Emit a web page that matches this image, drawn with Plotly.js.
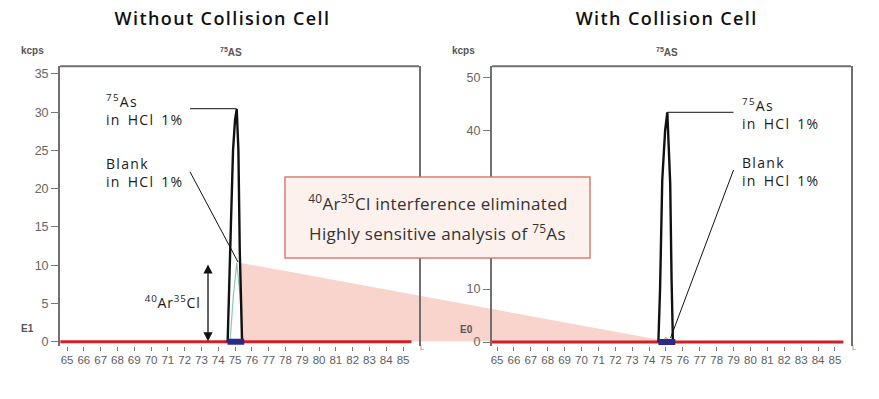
<!DOCTYPE html>
<html>
<head>
<meta charset="utf-8">
<script src="https://cdn.plot.ly/plotly-3.0.1.min.js"></script>
<style>
html,body{margin:0;padding:0;background:#fff;}
#chart{width:879px;height:399px;}
g.annotation[data-index="0"] text, g.annotation[data-index="1"] text {letter-spacing:1.4px;}
g.annotation[data-index="10"] text, g.annotation[data-index="11"] text,
g.annotation[data-index="12"] text, g.annotation[data-index="13"] text {letter-spacing:1.3px; word-spacing:2px;}
g.annotation[data-index="14"] text {letter-spacing:0.8px;}
g.annotation[data-index="16"] text, g.annotation[data-index="17"] text {letter-spacing:0.3px;}
</style>
</head>
<body>
<div id="chart"></div>
<script>
// ---- data ----
const massTicks = [65,66,67,68,69,70,71,72,73,74,75,76,77,78,79,80,81,82,83,84,85];
const yTicksLeft = [0,5,10,15,20,25,30,35];
const yTicksRight = [0,10,20,30,40,50];

const baselineX = [64.6, 85.5];
const baselineY = [0, 0];
const windowX = [74.55, 75.55];
const windowY = [0, 0];

// Without collision cell
const asNoCellX = [74.56, 74.65, 74.75, 74.88, 75.0, 75.1, 75.2, 75.28, 75.35, 75.42];
const asNoCellY = [0, 6, 15, 25, 29, 30.4, 25, 12, 5, 0];
const blankNoCellX = [74.7, 74.9, 75.1, 75.3, 75.45];
const blankNoCellY = [0, 6, 10.3, 6, 0];

// With collision cell
const asCellX = [74.55, 74.65, 74.78, 74.95, 75.08, 75.18, 75.25, 75.33, 75.41];
const asCellY = [0, 10, 30.6, 40, 43.4, 36, 30, 12, 0];
const blankCellX = [74.7, 75.0, 75.3];
const blankCellY = [0, 0.8, 0];

// ---- layout helpers ----
const W = 879, H = 399;
const px = v => v / W;
const py = v => 1 - v / H;

const xDomL = [0.0683, 0.4767], xRangeL = [64.583, 85.95];
const xDomR = [0.5597, 0.9681], xRangeR = [64.70, 85.95];
const yDom = [0.134, 0.834];
const yRangeL = [-0.5, 36];
const yRangeR = [-0.66, 52.1];
const toPaper = (v, dom, rng) => dom[0] + (v - rng[0]) / (rng[1] - rng[0]) * (dom[1] - dom[0]);

const black = '#111';
const traces = [
  {x: baselineX, y: baselineY, xaxis: 'x', yaxis: 'y', mode: 'lines', line: {color: '#d01f25', width: 3}},
  {x: baselineX, y: baselineY, xaxis: 'x2', yaxis: 'y2', mode: 'lines', line: {color: '#d01f25', width: 3}},
  {x: blankNoCellX, y: blankNoCellY, xaxis: 'x', yaxis: 'y', mode: 'lines', line: {color: '#8cc9b4', width: 1.2}},
  {x: asNoCellX, y: asNoCellY, xaxis: 'x', yaxis: 'y', mode: 'lines', line: {color: black, width: 2.4}},
  {x: blankCellX, y: blankCellY, xaxis: 'x2', yaxis: 'y2', mode: 'lines', line: {color: '#d9b38c', width: 1.2}},
  {x: asCellX, y: asCellY, xaxis: 'x2', yaxis: 'y2', mode: 'lines', line: {color: black, width: 2.4}},
  {x: windowX, y: windowY, xaxis: 'x', yaxis: 'y', mode: 'lines', line: {color: '#2b2a8a', width: 6}},
  {x: windowX, y: windowY, xaxis: 'x2', yaxis: 'y2', mode: 'lines', line: {color: '#2b2a8a', width: 6}}
];

const axisX = (dom, rng) => ({
  domain: dom, range: rng, tickmode: 'array', tickvals: massTicks, ticktext: massTicks.map(String),
  ticks: 'outside', ticklen: 4, tickwidth: 1, tickcolor: '#777', showgrid: false, zeroline: false,
  showline: false, tickangle: 0, fixedrange: true,
  tickfont: {family: 'Liberation Sans, Arial, sans-serif', size: 11.5, color: '#5e5e5e'}
});
const axisY = (rng, ticks, anchor) => ({
  domain: yDom, range: rng, anchor: anchor, tickmode: 'array', tickvals: ticks, ticktext: ticks.map(String),
  ticks: 'outside', ticklen: 7, tickwidth: 1, tickcolor: '#777', showgrid: false, zeroline: false,
  showline: true, mirror: true, linecolor: '#707070', linewidth: 2, fixedrange: true,
  tickfont: {family: 'Liberation Sans, Arial, sans-serif', size: 12.5, color: '#666'}
});

const txtFont = {family: 'Open Sans, Noto Sans, sans-serif', size: 14, color: '#1a1a1a'};
const smallGray = {family: 'Liberation Sans, Arial, sans-serif', size: 10, color: '#555', weight: 700};

// triangle linking the ArCl interference to the cleaned baseline
const tri = [
  [toPaper(75.33, xDomL, xRangeL), toPaper(10.3, yDom, yRangeL)],
  [toPaper(75.33, xDomL, xRangeL), toPaper(0, yDom, yRangeL)],
  [toPaper(75.0, xDomR, xRangeR), toPaper(0.2, yDom, yRangeR)]
];

const lbl = (x, y, text, font, extra) => Object.assign(
  {xref: 'paper', yref: 'paper', x: px(x), y: py(y), text: text, showarrow: false,
   xanchor: 'center', yanchor: 'middle', font: font}, extra || {});

const layout = {
  width: W, height: H, margin: {l: 0, r: 0, t: 0, b: 0},
  paper_bgcolor: '#fff', plot_bgcolor: 'rgba(0,0,0,0)', showlegend: false,
  xaxis: Object.assign(axisX(xDomL, xRangeL), {anchor: 'y'}),
  yaxis: axisY(yRangeL, yTicksLeft, 'x'),
  xaxis2: Object.assign(axisX(xDomR, xRangeR), {anchor: 'y2'}),
  yaxis2: axisY(yRangeR, yTicksRight, 'x2'),
  shapes: [
    {type: 'path', xref: 'paper', yref: 'paper', layer: 'below',
     path: 'M' + tri.map(p => p[0] + ',' + p[1]).join(' L') + ' Z',
     fillcolor: '#f8d4cd', line: {width: 0}},
    {type: 'line', xref: 'x domain', yref: 'y domain', x0: 0, x1: 1, y0: 1, y1: 1, line: {color: '#707070', width: 2}},
    {type: 'line', xref: 'x2 domain', yref: 'y2 domain', x0: 0, x1: 1, y0: 1, y1: 1, line: {color: '#707070', width: 2}},
    // leader lines
    {type: 'line', xref: 'x', yref: 'y', x0: 72.32, y0: 30.45, x1: 75.1, y1: 30.45, line: {color: '#111', width: 1}},
    {type: 'line', xref: 'x', yref: 'y', x0: 72.32, y0: 22.2, x1: 75.18, y1: 10.4, line: {color: '#111', width: 1}},
    {type: 'line', xref: 'x2', yref: 'y2', x0: 75.08, y0: 43.4, x1: 79.0, y1: 43.4, line: {color: '#111', width: 1}},
    {type: 'line', xref: 'x2', yref: 'y2', x0: 79.0, y0: 32.5, x1: 75.27, y1: 0.76, line: {color: '#111', width: 1}},
    // callout box
    {type: 'rect', xref: 'paper', yref: 'paper', layer: 'above', x0: px(285), x1: px(590), y0: py(258), y1: py(177),
     fillcolor: '#fdf1ee', line: {color: '#dc7d70', width: 1.5}}
  ],
  annotations: [
    lbl(223, 18, 'Without Collision Cell', {family: 'Open Sans, sans-serif', size: 18, color: '#111', weight: 600}),   // 0
    lbl(666, 18, 'With Collision Cell', {family: 'Open Sans, sans-serif', size: 18, color: '#111', weight: 600}),      // 1
    lbl(32, 50, 'kcps', smallGray),                       // 2
    lbl(463, 50, 'kcps', smallGray),                      // 3
    lbl(231, 52, '<sup>75</sup>AS', smallGray),           // 4
    lbl(667, 52, '<sup>75</sup>AS', smallGray),           // 5
    lbl(28, 328, 'E1', smallGray),                        // 6
    lbl(466, 329, 'E0', smallGray),                       // 7
    lbl(422, 347, 'L', {family: 'Liberation Sans', size: 7, color: '#888'}),   // 8
    lbl(854, 347, 'L', {family: 'Liberation Sans', size: 7, color: '#888'}),   // 9
    // peak labels
    lbl(104, 110, '<sup>75</sup>As<br>in HCl 1%', txtFont, {xanchor: 'left', align: 'left'}),   // 10
    lbl(104, 172, 'Blank<br>in HCl 1%', txtFont, {xanchor: 'left', align: 'left'}),             // 11
    lbl(740, 114, '<sup>75</sup>As<br>in HCl 1%', txtFont, {xanchor: 'left', align: 'left'}),   // 12
    lbl(740, 171, 'Blank<br>in HCl 1%', txtFont, {xanchor: 'left', align: 'left'}),             // 13
    lbl(172, 302, '<sup>40</sup>Ar<sup>35</sup>Cl', txtFont),                                   // 14
    // double arrow for ArCl interference height (15)
    {xref: 'x', yref: 'y', axref: 'x', ayref: 'y', x: 73.39, y: 0.05, ax: 73.39, ay: 10.3, text: '',
     showarrow: true, arrowside: 'end+start', arrowhead: 2, arrowsize: 1.4, arrowwidth: 1.3, arrowcolor: '#111'},
    // callout text
    lbl(437.5, 202, '<sup>40</sup>Ar<sup>35</sup>Cl interference eliminated', {family: 'Open Sans, sans-serif', size: 17, color: '#333'}), // 16
    lbl(437.5, 232, 'Highly sensitive analysis of <sup>75</sup>As', {family: 'Open Sans, sans-serif', size: 17, color: '#333'})             // 17
  ]
};

Plotly.newPlot('chart', traces, layout, {displayModeBar: false, staticPlot: true});
</script>
</body>
</html>
